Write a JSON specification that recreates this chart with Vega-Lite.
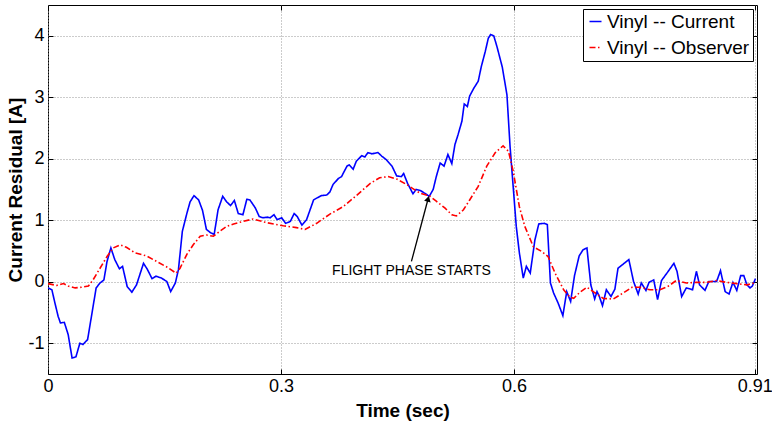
{
  "$schema": "https://vega.github.io/schema/vega-lite/v6.json",
  "width": 709,
  "height": 369,
  "autosize": {"type": "none"},
  "padding": {"left": 48, "top": 5, "right": 15, "bottom": 50},
  "background": "white",
  "config": {
    "view": {"stroke": "black", "strokeWidth": 1},
    "font": "Liberation Sans",
    "axis": {
      "labelFont": "Liberation Sans",
      "labelFontSize": 18,
      "labelColor": "black",
      "titleFont": "Liberation Sans",
      "titleFontSize": 19,
      "titleFontWeight": "bold",
      "titleColor": "black",
      "tickColor": "black",
      "tickSize": -5,
      "domainColor": "black",
      "gridColor": "#999999",
      "gridDash": [1, 2],
      "gridWidth": 1
    }
  },
  "resolve": {"axis": {"x": "independent", "y": "independent"}},
  "datasets": {
    "curves": [
      {"t": 0.000, "v": -0.10, "series": "Vinyl -- Current"},
      {"t": 0.005, "v": -0.13, "series": "Vinyl -- Current"},
      {"t": 0.009, "v": -0.35, "series": "Vinyl -- Current"},
      {"t": 0.013, "v": -0.56, "series": "Vinyl -- Current"},
      {"t": 0.016, "v": -0.67, "series": "Vinyl -- Current"},
      {"t": 0.021, "v": -0.66, "series": "Vinyl -- Current"},
      {"t": 0.026, "v": -0.86, "series": "Vinyl -- Current"},
      {"t": 0.031, "v": -1.24, "series": "Vinyl -- Current"},
      {"t": 0.036, "v": -1.22, "series": "Vinyl -- Current"},
      {"t": 0.041, "v": -1.00, "series": "Vinyl -- Current"},
      {"t": 0.045, "v": -1.02, "series": "Vinyl -- Current"},
      {"t": 0.051, "v": -0.94, "series": "Vinyl -- Current"},
      {"t": 0.056, "v": -0.56, "series": "Vinyl -- Current"},
      {"t": 0.062, "v": -0.10, "series": "Vinyl -- Current"},
      {"t": 0.067, "v": -0.02, "series": "Vinyl -- Current"},
      {"t": 0.072, "v": 0.03, "series": "Vinyl -- Current"},
      {"t": 0.076, "v": 0.33, "series": "Vinyl -- Current"},
      {"t": 0.081, "v": 0.55, "series": "Vinyl -- Current"},
      {"t": 0.086, "v": 0.36, "series": "Vinyl -- Current"},
      {"t": 0.092, "v": 0.21, "series": "Vinyl -- Current"},
      {"t": 0.096, "v": 0.25, "series": "Vinyl -- Current"},
      {"t": 0.102, "v": -0.08, "series": "Vinyl -- Current"},
      {"t": 0.108, "v": -0.17, "series": "Vinyl -- Current"},
      {"t": 0.114, "v": -0.05, "series": "Vinyl -- Current"},
      {"t": 0.123, "v": 0.30, "series": "Vinyl -- Current"},
      {"t": 0.128, "v": 0.20, "series": "Vinyl -- Current"},
      {"t": 0.134, "v": 0.05, "series": "Vinyl -- Current"},
      {"t": 0.139, "v": 0.09, "series": "Vinyl -- Current"},
      {"t": 0.146, "v": 0.06, "series": "Vinyl -- Current"},
      {"t": 0.153, "v": 0.005, "series": "Vinyl -- Current"},
      {"t": 0.158, "v": -0.16, "series": "Vinyl -- Current"},
      {"t": 0.164, "v": -0.02, "series": "Vinyl -- Current"},
      {"t": 0.168, "v": 0.20, "series": "Vinyl -- Current"},
      {"t": 0.173, "v": 0.82, "series": "Vinyl -- Current"},
      {"t": 0.179, "v": 1.12, "series": "Vinyl -- Current"},
      {"t": 0.183, "v": 1.30, "series": "Vinyl -- Current"},
      {"t": 0.188, "v": 1.40, "series": "Vinyl -- Current"},
      {"t": 0.194, "v": 1.33, "series": "Vinyl -- Current"},
      {"t": 0.199, "v": 1.16, "series": "Vinyl -- Current"},
      {"t": 0.204, "v": 0.85, "series": "Vinyl -- Current"},
      {"t": 0.209, "v": 0.80, "series": "Vinyl -- Current"},
      {"t": 0.214, "v": 0.77, "series": "Vinyl -- Current"},
      {"t": 0.219, "v": 1.17, "series": "Vinyl -- Current"},
      {"t": 0.225, "v": 1.39, "series": "Vinyl -- Current"},
      {"t": 0.230, "v": 1.30, "series": "Vinyl -- Current"},
      {"t": 0.235, "v": 1.24, "series": "Vinyl -- Current"},
      {"t": 0.240, "v": 1.32, "series": "Vinyl -- Current"},
      {"t": 0.245, "v": 1.11, "series": "Vinyl -- Current"},
      {"t": 0.251, "v": 1.09, "series": "Vinyl -- Current"},
      {"t": 0.256, "v": 1.34, "series": "Vinyl -- Current"},
      {"t": 0.260, "v": 1.33, "series": "Vinyl -- Current"},
      {"t": 0.267, "v": 1.20, "series": "Vinyl -- Current"},
      {"t": 0.272, "v": 1.06, "series": "Vinyl -- Current"},
      {"t": 0.277, "v": 1.04, "series": "Vinyl -- Current"},
      {"t": 0.282, "v": 1.05, "series": "Vinyl -- Current"},
      {"t": 0.286, "v": 1.04, "series": "Vinyl -- Current"},
      {"t": 0.291, "v": 1.09, "series": "Vinyl -- Current"},
      {"t": 0.295, "v": 1.01, "series": "Vinyl -- Current"},
      {"t": 0.301, "v": 1.04, "series": "Vinyl -- Current"},
      {"t": 0.306, "v": 0.95, "series": "Vinyl -- Current"},
      {"t": 0.312, "v": 0.98, "series": "Vinyl -- Current"},
      {"t": 0.317, "v": 1.11, "series": "Vinyl -- Current"},
      {"t": 0.321, "v": 1.06, "series": "Vinyl -- Current"},
      {"t": 0.327, "v": 0.92, "series": "Vinyl -- Current"},
      {"t": 0.333, "v": 1.01, "series": "Vinyl -- Current"},
      {"t": 0.342, "v": 1.33, "series": "Vinyl -- Current"},
      {"t": 0.346, "v": 1.36, "series": "Vinyl -- Current"},
      {"t": 0.352, "v": 1.40, "series": "Vinyl -- Current"},
      {"t": 0.359, "v": 1.41, "series": "Vinyl -- Current"},
      {"t": 0.363, "v": 1.46, "series": "Vinyl -- Current"},
      {"t": 0.367, "v": 1.58, "series": "Vinyl -- Current"},
      {"t": 0.374, "v": 1.68, "series": "Vinyl -- Current"},
      {"t": 0.378, "v": 1.71, "series": "Vinyl -- Current"},
      {"t": 0.385, "v": 1.88, "series": "Vinyl -- Current"},
      {"t": 0.388, "v": 1.90, "series": "Vinyl -- Current"},
      {"t": 0.393, "v": 1.83, "series": "Vinyl -- Current"},
      {"t": 0.397, "v": 1.96, "series": "Vinyl -- Current"},
      {"t": 0.404, "v": 2.05, "series": "Vinyl -- Current"},
      {"t": 0.408, "v": 2.03, "series": "Vinyl -- Current"},
      {"t": 0.412, "v": 2.10, "series": "Vinyl -- Current"},
      {"t": 0.417, "v": 2.08, "series": "Vinyl -- Current"},
      {"t": 0.421, "v": 2.09, "series": "Vinyl -- Current"},
      {"t": 0.425, "v": 2.10, "series": "Vinyl -- Current"},
      {"t": 0.430, "v": 2.04, "series": "Vinyl -- Current"},
      {"t": 0.436, "v": 1.98, "series": "Vinyl -- Current"},
      {"t": 0.443, "v": 1.88, "series": "Vinyl -- Current"},
      {"t": 0.449, "v": 1.72, "series": "Vinyl -- Current"},
      {"t": 0.455, "v": 1.71, "series": "Vinyl -- Current"},
      {"t": 0.458, "v": 1.76, "series": "Vinyl -- Current"},
      {"t": 0.463, "v": 1.60, "series": "Vinyl -- Current"},
      {"t": 0.470, "v": 1.43, "series": "Vinyl -- Current"},
      {"t": 0.474, "v": 1.50, "series": "Vinyl -- Current"},
      {"t": 0.480, "v": 1.48, "series": "Vinyl -- Current"},
      {"t": 0.485, "v": 1.44, "series": "Vinyl -- Current"},
      {"t": 0.491, "v": 1.39, "series": "Vinyl -- Current"},
      {"t": 0.496, "v": 1.50, "series": "Vinyl -- Current"},
      {"t": 0.500, "v": 1.71, "series": "Vinyl -- Current"},
      {"t": 0.505, "v": 1.93, "series": "Vinyl -- Current"},
      {"t": 0.510, "v": 1.88, "series": "Vinyl -- Current"},
      {"t": 0.515, "v": 2.07, "series": "Vinyl -- Current"},
      {"t": 0.520, "v": 1.92, "series": "Vinyl -- Current"},
      {"t": 0.524, "v": 2.23, "series": "Vinyl -- Current"},
      {"t": 0.528, "v": 2.39, "series": "Vinyl -- Current"},
      {"t": 0.533, "v": 2.61, "series": "Vinyl -- Current"},
      {"t": 0.536, "v": 2.89, "series": "Vinyl -- Current"},
      {"t": 0.540, "v": 2.85, "series": "Vinyl -- Current"},
      {"t": 0.543, "v": 3.02, "series": "Vinyl -- Current"},
      {"t": 0.548, "v": 3.14, "series": "Vinyl -- Current"},
      {"t": 0.554, "v": 3.26, "series": "Vinyl -- Current"},
      {"t": 0.558, "v": 3.50, "series": "Vinyl -- Current"},
      {"t": 0.563, "v": 3.74, "series": "Vinyl -- Current"},
      {"t": 0.567, "v": 3.96, "series": "Vinyl -- Current"},
      {"t": 0.570, "v": 4.02, "series": "Vinyl -- Current"},
      {"t": 0.574, "v": 4.00, "series": "Vinyl -- Current"},
      {"t": 0.578, "v": 3.83, "series": "Vinyl -- Current"},
      {"t": 0.585, "v": 3.49, "series": "Vinyl -- Current"},
      {"t": 0.591, "v": 3.04, "series": "Vinyl -- Current"},
      {"t": 0.595, "v": 2.20, "series": "Vinyl -- Current"},
      {"t": 0.599, "v": 1.55, "series": "Vinyl -- Current"},
      {"t": 0.603, "v": 0.90, "series": "Vinyl -- Current"},
      {"t": 0.607, "v": 0.47, "series": "Vinyl -- Current"},
      {"t": 0.612, "v": 0.06, "series": "Vinyl -- Current"},
      {"t": 0.616, "v": 0.25, "series": "Vinyl -- Current"},
      {"t": 0.621, "v": 0.14, "series": "Vinyl -- Current"},
      {"t": 0.627, "v": 0.68, "series": "Vinyl -- Current"},
      {"t": 0.632, "v": 0.94, "series": "Vinyl -- Current"},
      {"t": 0.639, "v": 0.95, "series": "Vinyl -- Current"},
      {"t": 0.643, "v": 0.93, "series": "Vinyl -- Current"},
      {"t": 0.647, "v": -0.02, "series": "Vinyl -- Current"},
      {"t": 0.651, "v": -0.18, "series": "Vinyl -- Current"},
      {"t": 0.657, "v": -0.35, "series": "Vinyl -- Current"},
      {"t": 0.663, "v": -0.55, "series": "Vinyl -- Current"},
      {"t": 0.668, "v": -0.16, "series": "Vinyl -- Current"},
      {"t": 0.673, "v": -0.32, "series": "Vinyl -- Current"},
      {"t": 0.678, "v": 0.10, "series": "Vinyl -- Current"},
      {"t": 0.684, "v": 0.42, "series": "Vinyl -- Current"},
      {"t": 0.689, "v": 0.52, "series": "Vinyl -- Current"},
      {"t": 0.694, "v": 0.55, "series": "Vinyl -- Current"},
      {"t": 0.699, "v": -0.05, "series": "Vinyl -- Current"},
      {"t": 0.704, "v": -0.28, "series": "Vinyl -- Current"},
      {"t": 0.707, "v": -0.16, "series": "Vinyl -- Current"},
      {"t": 0.710, "v": -0.24, "series": "Vinyl -- Current"},
      {"t": 0.714, "v": -0.39, "series": "Vinyl -- Current"},
      {"t": 0.719, "v": -0.13, "series": "Vinyl -- Current"},
      {"t": 0.725, "v": -0.24, "series": "Vinyl -- Current"},
      {"t": 0.730, "v": -0.12, "series": "Vinyl -- Current"},
      {"t": 0.734, "v": 0.22, "series": "Vinyl -- Current"},
      {"t": 0.740, "v": 0.28, "series": "Vinyl -- Current"},
      {"t": 0.748, "v": 0.36, "series": "Vinyl -- Current"},
      {"t": 0.754, "v": 0.005, "series": "Vinyl -- Current"},
      {"t": 0.760, "v": -0.20, "series": "Vinyl -- Current"},
      {"t": 0.764, "v": -0.02, "series": "Vinyl -- Current"},
      {"t": 0.770, "v": -0.14, "series": "Vinyl -- Current"},
      {"t": 0.774, "v": -0.01, "series": "Vinyl -- Current"},
      {"t": 0.780, "v": 0.03, "series": "Vinyl -- Current"},
      {"t": 0.785, "v": -0.29, "series": "Vinyl -- Current"},
      {"t": 0.790, "v": 0.02, "series": "Vinyl -- Current"},
      {"t": 0.797, "v": 0.14, "series": "Vinyl -- Current"},
      {"t": 0.806, "v": 0.30, "series": "Vinyl -- Current"},
      {"t": 0.810, "v": 0.17, "series": "Vinyl -- Current"},
      {"t": 0.816, "v": -0.24, "series": "Vinyl -- Current"},
      {"t": 0.822, "v": -0.10, "series": "Vinyl -- Current"},
      {"t": 0.830, "v": -0.13, "series": "Vinyl -- Current"},
      {"t": 0.835, "v": 0.17, "series": "Vinyl -- Current"},
      {"t": 0.839, "v": -0.05, "series": "Vinyl -- Current"},
      {"t": 0.846, "v": -0.14, "series": "Vinyl -- Current"},
      {"t": 0.851, "v": 0.005, "series": "Vinyl -- Current"},
      {"t": 0.857, "v": 0.005, "series": "Vinyl -- Current"},
      {"t": 0.861, "v": 0.005, "series": "Vinyl -- Current"},
      {"t": 0.866, "v": 0.18, "series": "Vinyl -- Current"},
      {"t": 0.872, "v": -0.16, "series": "Vinyl -- Current"},
      {"t": 0.877, "v": -0.20, "series": "Vinyl -- Current"},
      {"t": 0.882, "v": -0.01, "series": "Vinyl -- Current"},
      {"t": 0.887, "v": -0.14, "series": "Vinyl -- Current"},
      {"t": 0.892, "v": 0.10, "series": "Vinyl -- Current"},
      {"t": 0.896, "v": 0.10, "series": "Vinyl -- Current"},
      {"t": 0.900, "v": -0.05, "series": "Vinyl -- Current"},
      {"t": 0.904, "v": -0.10, "series": "Vinyl -- Current"},
      {"t": 0.907, "v": -0.07, "series": "Vinyl -- Current"},
      {"t": 0.911, "v": 0.05, "series": "Vinyl -- Current"},
      {"t": 0.000, "v": -0.03, "series": "Vinyl -- Observer"},
      {"t": 0.011, "v": -0.06, "series": "Vinyl -- Observer"},
      {"t": 0.020, "v": -0.03, "series": "Vinyl -- Observer"},
      {"t": 0.026, "v": -0.07, "series": "Vinyl -- Observer"},
      {"t": 0.035, "v": -0.10, "series": "Vinyl -- Observer"},
      {"t": 0.043, "v": -0.09, "series": "Vinyl -- Observer"},
      {"t": 0.052, "v": -0.07, "series": "Vinyl -- Observer"},
      {"t": 0.058, "v": 0.03, "series": "Vinyl -- Observer"},
      {"t": 0.067, "v": 0.22, "series": "Vinyl -- Observer"},
      {"t": 0.076, "v": 0.41, "series": "Vinyl -- Observer"},
      {"t": 0.084, "v": 0.55, "series": "Vinyl -- Observer"},
      {"t": 0.093, "v": 0.60, "series": "Vinyl -- Observer"},
      {"t": 0.101, "v": 0.56, "series": "Vinyl -- Observer"},
      {"t": 0.112, "v": 0.47, "series": "Vinyl -- Observer"},
      {"t": 0.127, "v": 0.42, "series": "Vinyl -- Observer"},
      {"t": 0.140, "v": 0.33, "series": "Vinyl -- Observer"},
      {"t": 0.153, "v": 0.24, "series": "Vinyl -- Observer"},
      {"t": 0.165, "v": 0.14, "series": "Vinyl -- Observer"},
      {"t": 0.170, "v": 0.22, "series": "Vinyl -- Observer"},
      {"t": 0.179, "v": 0.45, "series": "Vinyl -- Observer"},
      {"t": 0.187, "v": 0.60, "series": "Vinyl -- Observer"},
      {"t": 0.196, "v": 0.74, "series": "Vinyl -- Observer"},
      {"t": 0.204, "v": 0.76, "series": "Vinyl -- Observer"},
      {"t": 0.213, "v": 0.74, "series": "Vinyl -- Observer"},
      {"t": 0.221, "v": 0.82, "series": "Vinyl -- Observer"},
      {"t": 0.230, "v": 0.90, "series": "Vinyl -- Observer"},
      {"t": 0.239, "v": 0.94, "series": "Vinyl -- Observer"},
      {"t": 0.251, "v": 0.98, "series": "Vinyl -- Observer"},
      {"t": 0.264, "v": 1.02, "series": "Vinyl -- Observer"},
      {"t": 0.282, "v": 0.96, "series": "Vinyl -- Observer"},
      {"t": 0.303, "v": 0.91, "series": "Vinyl -- Observer"},
      {"t": 0.320, "v": 0.88, "series": "Vinyl -- Observer"},
      {"t": 0.331, "v": 0.85, "series": "Vinyl -- Observer"},
      {"t": 0.346, "v": 0.95, "series": "Vinyl -- Observer"},
      {"t": 0.363, "v": 1.10, "series": "Vinyl -- Observer"},
      {"t": 0.380, "v": 1.22, "series": "Vinyl -- Observer"},
      {"t": 0.397, "v": 1.40, "series": "Vinyl -- Observer"},
      {"t": 0.415, "v": 1.60, "series": "Vinyl -- Observer"},
      {"t": 0.427, "v": 1.69, "series": "Vinyl -- Observer"},
      {"t": 0.438, "v": 1.71, "series": "Vinyl -- Observer"},
      {"t": 0.449, "v": 1.67, "series": "Vinyl -- Observer"},
      {"t": 0.462, "v": 1.58, "series": "Vinyl -- Observer"},
      {"t": 0.479, "v": 1.44, "series": "Vinyl -- Observer"},
      {"t": 0.492, "v": 1.39, "series": "Vinyl -- Observer"},
      {"t": 0.500, "v": 1.31, "series": "Vinyl -- Observer"},
      {"t": 0.511, "v": 1.20, "series": "Vinyl -- Observer"},
      {"t": 0.520, "v": 1.09, "series": "Vinyl -- Observer"},
      {"t": 0.526, "v": 1.07, "series": "Vinyl -- Observer"},
      {"t": 0.535, "v": 1.17, "series": "Vinyl -- Observer"},
      {"t": 0.543, "v": 1.33, "series": "Vinyl -- Observer"},
      {"t": 0.554, "v": 1.55, "series": "Vinyl -- Observer"},
      {"t": 0.565, "v": 1.88, "series": "Vinyl -- Observer"},
      {"t": 0.576, "v": 2.10, "series": "Vinyl -- Observer"},
      {"t": 0.586, "v": 2.21, "series": "Vinyl -- Observer"},
      {"t": 0.593, "v": 2.12, "series": "Vinyl -- Observer"},
      {"t": 0.599, "v": 1.80, "series": "Vinyl -- Observer"},
      {"t": 0.607, "v": 1.22, "series": "Vinyl -- Observer"},
      {"t": 0.614, "v": 0.90, "series": "Vinyl -- Observer"},
      {"t": 0.625, "v": 0.57, "series": "Vinyl -- Observer"},
      {"t": 0.636, "v": 0.49, "series": "Vinyl -- Observer"},
      {"t": 0.644, "v": 0.41, "series": "Vinyl -- Observer"},
      {"t": 0.653, "v": 0.14, "series": "Vinyl -- Observer"},
      {"t": 0.664, "v": -0.13, "series": "Vinyl -- Observer"},
      {"t": 0.672, "v": -0.25, "series": "Vinyl -- Observer"},
      {"t": 0.677, "v": -0.27, "series": "Vinyl -- Observer"},
      {"t": 0.685, "v": -0.17, "series": "Vinyl -- Observer"},
      {"t": 0.694, "v": -0.09, "series": "Vinyl -- Observer"},
      {"t": 0.702, "v": -0.16, "series": "Vinyl -- Observer"},
      {"t": 0.715, "v": -0.27, "series": "Vinyl -- Observer"},
      {"t": 0.728, "v": -0.28, "series": "Vinyl -- Observer"},
      {"t": 0.741, "v": -0.18, "series": "Vinyl -- Observer"},
      {"t": 0.752, "v": -0.09, "series": "Vinyl -- Observer"},
      {"t": 0.762, "v": -0.09, "series": "Vinyl -- Observer"},
      {"t": 0.775, "v": -0.13, "series": "Vinyl -- Observer"},
      {"t": 0.788, "v": -0.13, "series": "Vinyl -- Observer"},
      {"t": 0.799, "v": -0.07, "series": "Vinyl -- Observer"},
      {"t": 0.809, "v": 0.02, "series": "Vinyl -- Observer"},
      {"t": 0.822, "v": -0.02, "series": "Vinyl -- Observer"},
      {"t": 0.835, "v": -0.01, "series": "Vinyl -- Observer"},
      {"t": 0.848, "v": -0.01, "series": "Vinyl -- Observer"},
      {"t": 0.861, "v": 0.02, "series": "Vinyl -- Observer"},
      {"t": 0.874, "v": -0.01, "series": "Vinyl -- Observer"},
      {"t": 0.887, "v": -0.03, "series": "Vinyl -- Observer"},
      {"t": 0.900, "v": -0.05, "series": "Vinyl -- Observer"},
      {"t": 0.910, "v": -0.02, "series": "Vinyl -- Observer"}
    ],
    "annot": [
      {"x1": 0.468, "y1": 0.33, "x2": 0.4895, "y2": 1.35, "hx": 0.4895, "hy": 1.35, "tx": 0.468, "ty": 0.17, "label": "FLIGHT PHASE STARTS"}
    ]
  },
  "layer": [
    {
      "data": {"name": "curves"},
      "mark": {"type": "line", "strokeWidth": 1.6, "clip": true},
      "encoding": {
        "x": {
          "field": "t",
          "type": "quantitative",
          "scale": {"domain": [0, 0.913], "nice": false, "zero": false},
          "axis": {
            "orient": "bottom",
            "title": "Time (sec)",
            "values": [0, 0.3, 0.6, 0.91],
            "labelExpr": "'' + datum.value",
            "labelPadding": 8,
            "titlePadding": 6,
            "domain": false,
            "labelFlush": false
          }
        },
        "y": {
          "field": "v",
          "type": "quantitative",
          "scale": {"domain": [-1.5, 4.5], "nice": false, "zero": false},
          "axis": {
            "orient": "left",
            "title": "Current Residual [A]",
            "values": [-1, 0, 1, 2, 3, 4],
            "labelExpr": "'' + datum.value",
            "labelPadding": 9,
            "titlePadding": 2,
            "domain": false
          }
        },
        "color": {
          "field": "series",
          "type": "nominal",
          "scale": {"domain": ["Vinyl -- Current", "Vinyl -- Observer"], "range": ["#0000ff", "#ff0000"]},
          "legend": {
            "title": null,
            "orient": "top-right",
            "offset": 4,
            "fillColor": "white",
            "strokeColor": "black",
            "padding": 3,
            "symbolType": "stroke",
            "symbolSize": 144,
            "symbolStrokeWidth": 1.5,
            "labelFont": "Liberation Sans",
            "labelFontSize": 19,
            "labelColor": "black",
            "labelOffset": 2,
            "rowPadding": 6,
            "labelLimit": 300
          }
        },
        "strokeDash": {
          "field": "series",
          "type": "nominal",
          "scale": {"domain": ["Vinyl -- Current", "Vinyl -- Observer"], "range": [[1, 0], [6, 2.5, 1.5, 2.5]]},
          "legend": {
            "title": null,
            "orient": "top-right",
            "offset": 4,
            "fillColor": "white",
            "strokeColor": "black",
            "padding": 3,
            "symbolType": "stroke",
            "symbolSize": 144,
            "symbolStrokeWidth": 1.5,
            "labelFont": "Liberation Sans",
            "labelFontSize": 19,
            "labelColor": "black",
            "labelOffset": 2,
            "rowPadding": 6,
            "labelLimit": 300
          }
        }
      }
    },
    {
      "data": {"name": "annot"},
      "mark": {"type": "rule", "color": "black", "strokeWidth": 1.3},
      "encoding": {
        "x": {
          "field": "x1",
          "type": "quantitative",
          "axis": {"orient": "top", "values": [0, 0.3, 0.6, 0.91], "labels": false, "title": null, "grid": false, "domain": false}
        },
        "y": {
          "field": "y1",
          "type": "quantitative",
          "axis": {"orient": "right", "values": [-1, 0, 1, 2, 3, 4], "labels": false, "title": null, "grid": false, "domain": false}
        },
        "x2": {"field": "x2"},
        "y2": {"field": "y2"}
      }
    },
    {
      "data": {"name": "annot"},
      "mark": {"type": "point", "shape": "triangle-up", "filled": true, "color": "black", "opacity": 1, "size": 45, "angle": 15},
      "encoding": {
        "x": {"field": "hx", "type": "quantitative", "axis": null},
        "y": {"field": "hy", "type": "quantitative", "axis": null}
      }
    },
    {
      "data": {"name": "annot"},
      "mark": {"type": "text", "font": "Liberation Sans", "fontSize": 14, "align": "center", "baseline": "middle", "color": "black"},
      "encoding": {
        "x": {"field": "tx", "type": "quantitative", "axis": null},
        "y": {"field": "ty", "type": "quantitative", "axis": null},
        "text": {"field": "label"}
      }
    }
  ]
}
